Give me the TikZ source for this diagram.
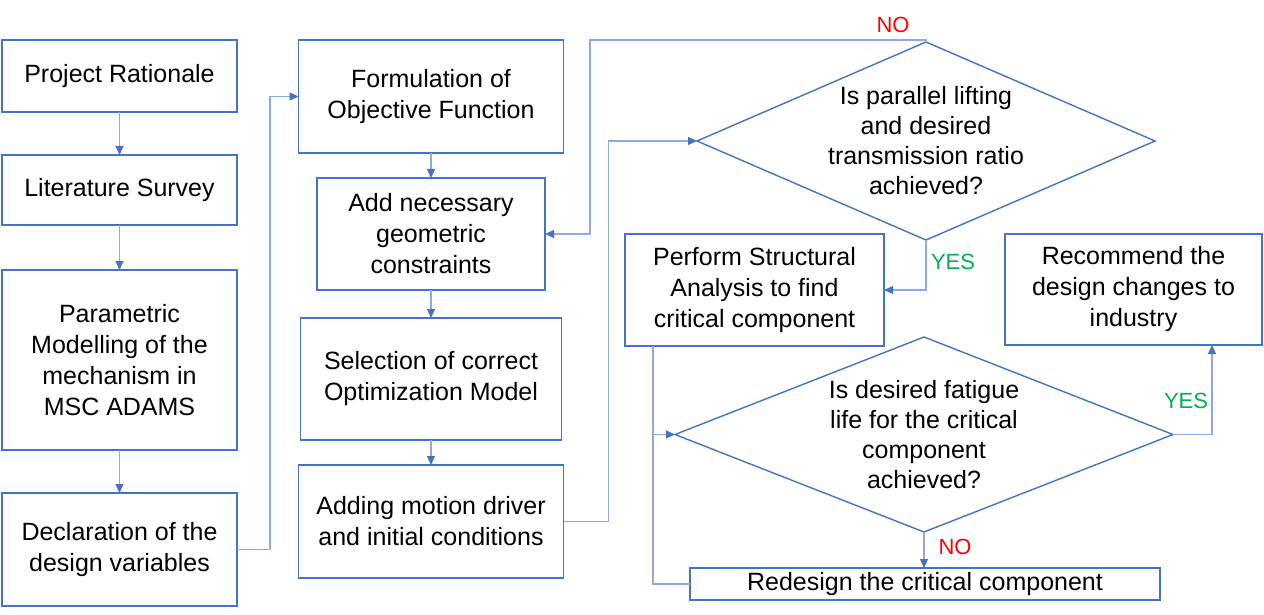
\documentclass[tikz,border=0pt]{standalone}
\usepackage{fontspec}
\setmainfont{Liberation Sans}
\usepackage{tikz}
\usetikzlibrary{shapes.geometric,arrows.meta,positioning,calc}
\definecolor{boxblue}{HTML}{4472C4}
\definecolor{linkblue}{HTML}{8FAADC}
\definecolor{noRed}{HTML}{FF0000}
\definecolor{yesGreen}{HTML}{00B050}
\tikzset{
  stagebox/.style={draw=boxblue, line width=0.7pt, fill=white, inner sep=0pt, outer sep=0pt,
    align=center, font=\fontsize{12.5}{15.5}\selectfont},
  decision/.style={diamond, draw=boxblue, line width=0.7pt, inner sep=0pt, outer sep=0pt},
  decisiontext/.style={align=center, font=\fontsize{12.5}{15}\selectfont},
  link/.style={draw=linkblue, line width=0.6pt},
  arr/.style={link, -{Triangle[length=4.5pt,width=4pt,color=boxblue]}},
  answer/.style={font=\fontsize{11}{13}\selectfont}
}
\begin{document}
\begin{tikzpicture}[x=0.5pt,y=-0.5pt]
      \useasboundingbox (0,0) rectangle (1264,615);
      % Left column
      \node[stagebox, minimum width=117.5pt, minimum height=36pt] (rat) at (119.5,76) {Project Rationale};
      \node[stagebox, minimum width=117.5pt, minimum height=35pt] (lit) at (119.5,190) {Literature Survey};
      \node[stagebox, minimum width=117.5pt, minimum height=90pt] (par) at (119.5,360) {Parametric\\Modelling of the\\mechanism in\\MSC ADAMS};
      \node[stagebox, minimum width=117.5pt, minimum height=56.5pt] (dec) at (119.5,549.5) {Declaration of the\\design variables};
      % Middle column
      \node[stagebox, minimum width=132.5pt, minimum height=56.5pt] (obj) at (431,96.5) {Formulation of\\Objective Function};
      \node[stagebox, minimum width=114pt, minimum height=56pt] (con) at (431,234) {Add necessary\\geometric\\constraints};
      \node[stagebox, minimum width=130.5pt, minimum height=61pt] (sel) at (431,379) {Selection of correct\\Optimization Model};
      \node[stagebox, minimum width=132.5pt, minimum height=56.5pt] (mot) at (431,521.5) {Adding motion driver\\and initial conditions};
      % Decisions
      \node[decision, minimum width=229pt, minimum height=99pt] (kin) at (926,141) {};
      \node[decisiontext] (kintext) at (kin) {Is parallel lifting\\and desired\\transmission ratio\\achieved?};
      \node[stagebox, minimum width=129.5pt, minimum height=56pt] (str) at (754.5,290) {Perform Structural\\Analysis to find\\critical component};
      \node[stagebox, minimum width=128.5pt, minimum height=55.5pt] (rec) at (1133.5,289.5) {Recommend the\\design changes to\\industry};
      \node[decision, minimum width=249pt, minimum height=97.5pt] (fat) at (924,434.5) {};
      \node[decisiontext] (fattext) at (fat) {Is desired fatigue\\life for the critical\\component\\achieved?};
      \node[stagebox, minimum width=235pt, minimum height=16pt] (red) at (925,584) {Redesign the critical component};
      % Flow, left and middle
      \draw[arr] (rat) -- (lit);
      \draw[arr] (lit) -- (par);
      \draw[arr] (par) -- (dec);
      \draw[arr] (dec.east) -- ++(33,0) |- (obj.west);
      \draw[arr] (obj) -- (con);
      \draw[arr] (con) -- (sel);
      \draw[arr] (sel) -- (mot);
      \draw[arr] (mot.east) -- ++(45,0) |- (kin.west);
      % Kinematic check
      \coordinate (noturn) at (590,40);
      \draw[arr] (kin.north) |- (noturn) |- (con.east);
      \node[answer, text=noRed] (no1) at (893,25) {NO};
      \draw[arr] (kin.south) |- (str.east);
      \node[answer, text=yesGreen] (yes1) at (953,262) {YES};
      % Fatigue check
      \coordinate (tap) at (653,346);
      \draw[link] (tap) |- (red.west);
      \draw[arr] (tap |- fat.west) -- (fat.west);
      \draw[arr] (fat.east) -| ($(rec.south east)+(-50,0)$);
      \node[answer, text=yesGreen] (yes2) at (1186,401) {YES};
      \draw[arr] (fat.south) -- (fat.south |- red.north);
      \node[answer, text=noRed] (no2) at (955,547) {NO};
    \end{tikzpicture}
\end{document}
